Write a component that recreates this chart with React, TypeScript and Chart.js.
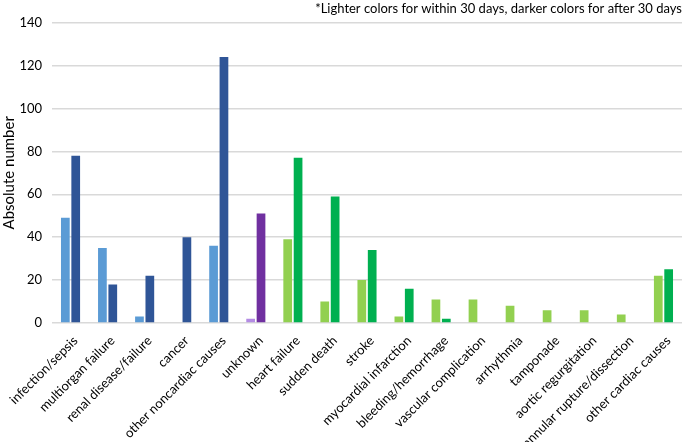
import React, { useEffect, useRef } from "react";
import { Chart, registerables } from "chart.js";

Chart.register(...registerables);

const categories = [
  "infection/sepsis",
  "multiorgan failure",
  "renal disease/failure",
  "cancer",
  "other noncardiac causes",
  "unknown",
  "heart failure",
  "sudden death",
  "stroke",
  "myocardial infarction",
  "bleeding/hemorrhage",
  "vascular complication",
  "arrhythmia",
  "tamponade",
  "aortic regurgitation",
  "annular rupture/dissection",
  "other cardiac causes",
];

const within30 = [49, 35, 3, 0, 36, 2, 39, 10, 20, 3, 11, 11, 8, 6, 6, 4, 22];
const after30 = [78, 18, 22, 40, 124, 51, 77, 59, 34, 16, 2, 0, 0, 0, 0, 0, 25];

// group of each category: noncardiac, unknown, cardiac
const groups = ["n", "n", "n", "n", "n", "u", "c", "c", "c", "c", "c", "c", "c", "c", "c", "c", "c"];

const lightColors: Record<string, string> = { n: "#5B9BD5", u: "#B48CE4", c: "#92D050" };
const darkColors: Record<string, string> = { n: "#2F5597", u: "#7030A0", c: "#00B050" };

const yTicks = [0, 20, 40, 60, 80, 100, 120, 140];
const note = "*Lighter colors for within 30 days, darker colors for after 30 days";
const yTitle = "Absolute number";

const FONT = "Lato, 'Open Sans', sans-serif";

export default function App() {
  const ref = useRef<HTMLCanvasElement>(null);
  useEffect(() => {
    if (!ref.current) return;
    const chart = new Chart(ref.current, {
      type: "bar",
      data: {
        labels: categories,
        datasets: [
          {
            label: "within 30 days",
            data: within30,
            backgroundColor: groups.map((g) => lightColors[g]),
            categoryPercentage: 0.56,
            barPercentage: 0.84,
          },
          {
            label: "after 30 days",
            data: after30,
            backgroundColor: groups.map((g) => darkColors[g]),
            categoryPercentage: 0.56,
            barPercentage: 0.84,
          },
        ],
      },
      options: {
        animation: false,
        responsive: true,
        maintainAspectRatio: false,
        layout: { padding: { left: 0, right: 1, top: 0, bottom: 0 } },
        plugins: {
          legend: { display: false },
          tooltip: { enabled: false },
          title: {
            display: true,
            text: note,
            align: "end",
            color: "#000000",
            font: { family: FONT, size: 13, weight: "normal" },
            padding: { top: 1, bottom: 6 },
          },
        },
        scales: {
          x: {
            grid: { display: false },
            border: { display: false },
            afterFit: (axis: any) => {
              axis.height = 119;
            },
            ticks: {
              minRotation: 45,
              maxRotation: 45,
              color: "#000000",
              font: { family: FONT, size: 13 },
              padding: 2,
              labelOffset: 5,
            },
          },
          y: {
            min: 0,
            max: 140,
            afterBuildTicks: (axis: any) => {
              axis.ticks = yTicks.map((v) => ({ value: v }));
            },
            afterFit: (axis: any) => {
              axis.width = 52;
            },
            grid: { color: "#D9D9D9", lineWidth: 1.5, drawTicks: false },
            border: { display: false },
            ticks: {
              color: "#000000",
              font: { family: FONT, size: 13 },
              padding: 10,
            },
            title: {
              display: true,
              text: yTitle,
              color: "#000000",
              font: { family: FONT, size: 15 },
              padding: { top: 0, bottom: 0 },
            },
          },
        },
      },
    });
    return () => chart.destroy();
  }, []);
  return (
    <div style={{ position: "fixed", left: 0, top: 0, width: 683, height: 442, background: "#fff" }}>
      <canvas ref={ref} />
    </div>
  );
}
